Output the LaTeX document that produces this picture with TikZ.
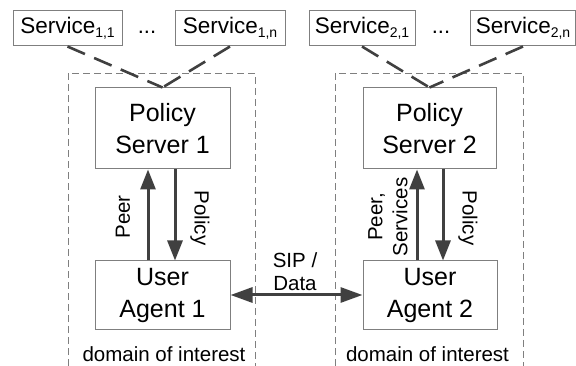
\documentclass[tikz,border=0pt]{standalone}
\usepackage{fontspec}
\setmainfont{Liberation Sans}
\usetikzlibrary{arrows.meta}
\definecolor{boxgray}{HTML}{7F7F7F}
\definecolor{arrgray}{HTML}{404040}
\newcommand{\svcsub}[1]{\raisebox{-4pt}{\fontsize{14}{14}\selectfont #1}}
\tikzset{
  svcbox/.style={draw=boxgray, line width=1pt, minimum height=35pt, inner sep=0pt, font=\fontsize{22.5}{24}\selectfont},
  bigbox/.style={draw=boxgray, line width=1pt, inner sep=0pt, align=center, font=\fontsize{25}{32}\selectfont},
  domainline/.style={draw=boxgray, line width=0.8pt, dash pattern=on 7pt off 4pt},
  svcline/.style={draw=arrgray, line width=2.6pt, dash pattern=on 19pt off 10pt},
  flow/.style={draw=arrgray, line width=3pt, -{Triangle[length=20pt,width=15pt]}},
  biflow/.style={draw=arrgray, line width=3pt, {Triangle[length=22pt,width=15pt]}-{Triangle[length=22pt,width=15pt]}},
  lbl/.style={inner sep=0pt, align=center, font=\fontsize{20.5}{24}\selectfont},
}
\begin{document}
\begin{tikzpicture}[x=1pt,y=-1pt]
\useasboundingbox (0,0) rectangle (576,366);
% domains
\draw[domainline] (68,366) -- (68,73) -- (255,73) -- (255,366);
\draw[domainline] (335,366) -- (335,73) -- (523,73) -- (523,366);
% service boxes
\node[svcbox, minimum width=109pt] (s11) at (67.5,28.5) {Service\svcsub{1,1}};
\node[svcbox, minimum width=110pt] (s1n) at (230,28.5) {Service\svcsub{1,n}};
\node[svcbox, minimum width=106pt] (s21) at (362,28.5) {Service\svcsub{2,1}};
\node[svcbox, minimum width=105pt] (s2n) at (523,28.5) {Service\svcsub{2,n}};
\node[lbl, font=\fontsize{22}{24}\selectfont] (dots1) at (147,32) {...};
\node[lbl, font=\fontsize{22}{24}\selectfont] (dots2) at (441,32) {...};
% policy servers
\node[bigbox, minimum width=135pt, minimum height=81pt] (ps1) at (162.5,128.5) {Policy\\Server 1};
\node[bigbox, minimum width=133pt, minimum height=81pt] (ps2) at (429.5,128.5) {Policy\\Server 2};
% user agents
\node[bigbox, minimum width=135pt, minimum height=68pt] (ua1) at (162.5,295) {User\\Agent 1};
\node[bigbox, minimum width=134pt, minimum height=68pt] (ua2) at (430,295) {User\\Agent 2};
% service lines
\draw[svcline] (s11.south) -- (ps1.north);
\draw[svcline] (s1n.south) -- (ps1.north);
\draw[svcline] (s21.south) -- (ps2.north);
\draw[svcline] (s2n.south) -- (ps2.north);
% arrows
\draw[flow] (ua1.north -| 148,0) -- (ps1.south -| 148,0);
\draw[flow] (ps1.south -| 175,0) -- (ua1.north -| 175,0);
\draw[flow] (ua2.north -| 417,0) -- (ps2.south -| 417,0);
\draw[flow] (ps2.south -| 443,0) -- (ua2.north -| 443,0);
\draw[biflow] (ua1.east) -- (ua2.west);
% labels
\node[lbl, rotate=90] (peer1) at (123,217) {Peer};
\node[lbl, rotate=-90] (pol1) at (200,218) {Policy};
\node[lbl, rotate=90, font=\fontsize{20.5}{25}\selectfont] (peer2) at (388,217) {Peer,\\Services};
\node[lbl, rotate=-90] (pol2) at (468,218) {Policy};
\node[lbl, font=\fontsize{20.5}{23}\selectfont] (sip) at (295,272) {SIP /\\Data};
\node[lbl] (dom1) at (164,354) {domain of interest};
\node[lbl] (dom2) at (427.5,354) {domain of interest};
\end{tikzpicture}
\end{document}
